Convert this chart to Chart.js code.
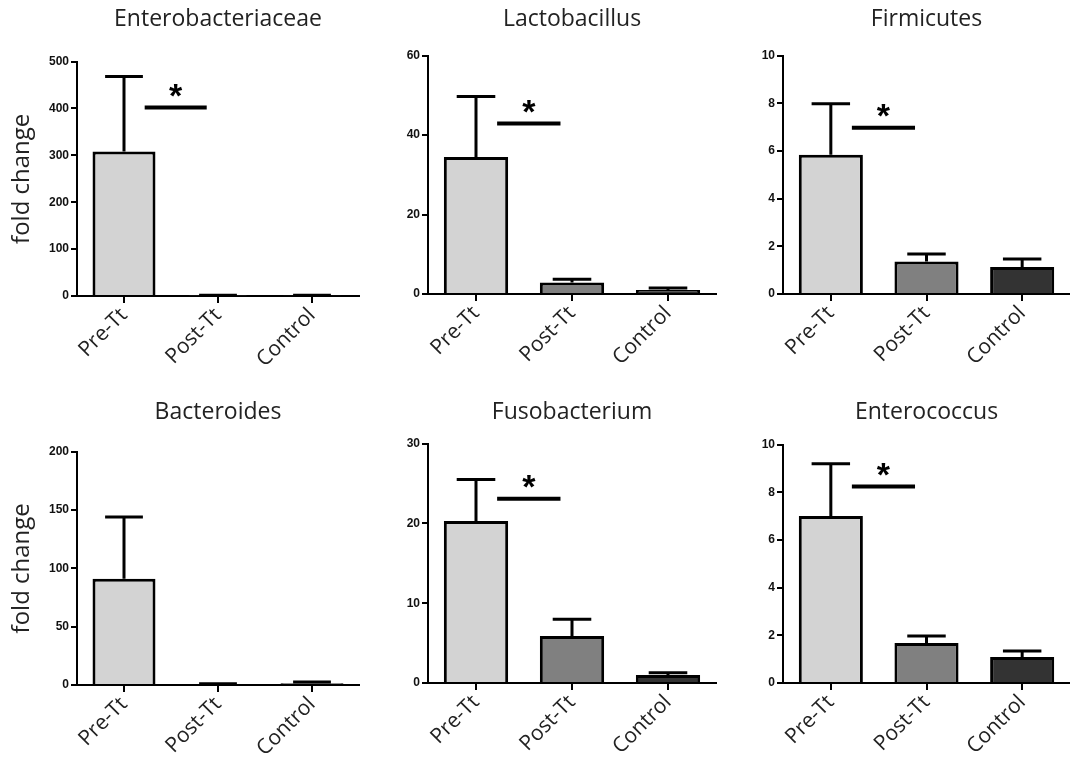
<!DOCTYPE html>
<html>
<head>
<meta charset="utf-8">
<script src="https://cdn.jsdelivr.net/npm/chart.js@4.4.1/dist/chart.umd.min.js"></script>
<style>
  html, body { margin: 0; padding: 0; background: #fff; }
  #wrap { position: relative; width: 1070px; height: 757px; overflow: hidden; }
  #wrap canvas { position: absolute; }
</style>
</head>
<body>
<div id="wrap"></div>
<script>
// data (mean and top of the error bar)
const categories = ['Pre-Tt', 'Post-Tt', 'Control'];
const titles = ['Enterobacteriaceae', 'Lactobacillus', 'Firmicutes', 'Bacteroides', 'Fusobacterium', 'Enterococcus'];

const enterobacteriaceaeMean = [308, 1.2, 1.0];
const enterobacteriaceaeErr = [468, 1.6, 1.4];
const lactobacillusMean = [34.5, 2.9, 1.0];
const lactobacillusErr = [49.7, 3.7, 1.5];
const firmicutesMean = [5.84, 1.36, 1.13];
const firmicutesErr = [7.98, 1.68, 1.47];
const bacteroidesMean = [91, 0.8, 1.5];
const bacteroidesErr = [144, 1.0, 2.6];
const fusobacteriumMean = [20.3, 5.9, 1.0];
const fusobacteriumErr = [25.5, 8.0, 1.3];
const enterococcusMean = [7.0, 1.68, 1.09];
const enterococcusErr = [9.2, 1.97, 1.34];

const yMax = [500, 60, 10, 200, 30, 10];
const yStep = [100, 20, 2, 50, 10, 2];
// height of the significance bar (null = none)
const sigLevel = [402, 42.9, 6.97, null, 23.1, 8.24];

const means = [enterobacteriaceaeMean, lactobacillusMean, firmicutesMean, bacteroidesMean, fusobacteriumMean, enterococcusMean];
const errs = [enterobacteriaceaeErr, lactobacillusErr, firmicutesErr, bacteroidesErr, fusobacteriumErr, enterococcusErr];

// where each panel sits on the page
const panels = [
  { x: 0,   y: 0,   w: 360, h: 380, yw: 77, xh: 84, tTop: 6,  tBot: 28, pr: 1 },
  { x: 360, y: 0,   w: 360, h: 380, yw: 68, xh: 86, tTop: 6,  tBot: 22, pr: 4 },
  { x: 720, y: 0,   w: 350, h: 380, yw: 63, xh: 86, tTop: 6,  tBot: 22, pr: 0 },
  { x: 0,   y: 380, w: 360, h: 377, yw: 77, xh: 72, tTop: 19, tBot: 25, pr: 1 },
  { x: 360, y: 380, w: 360, h: 377, yw: 68, xh: 74, tTop: 19, tBot: 17, pr: 4 },
  { x: 720, y: 380, w: 350, h: 377, yw: 63, xh: 74, tTop: 19, tBot: 18, pr: 0 }
];

const barColors = ['#d3d3d3', '#808080', '#333333'];

Chart.defaults.font.family = "'Open Sans', sans-serif";
Chart.defaults.color = '#222';

// error bars + significance line with star
const errorBars = {
  id: 'errorBars',
  afterDatasetsDraw(chart, args, opts) {
    const ctx = chart.ctx;
    const meta = chart.getDatasetMeta(0);
    const xs = chart.scales.x;
    const ys = chart.scales.y;
    ctx.save();
    ctx.strokeStyle = '#000';
    ctx.lineWidth = 3;
    meta.data.forEach((bar, i) => {
      const top = ys.getPixelForValue(opts.tops[i]);
      const half = bar.width * 0.3;
      ctx.beginPath();
      ctx.moveTo(bar.x, bar.y);
      ctx.lineTo(bar.x, top);
      ctx.moveTo(bar.x - half, top);
      ctx.lineTo(bar.x + half, top);
      ctx.stroke();
    });
    if (opts.sig != null) {
      const x0 = xs.getPixelForValue(0);
      const step = xs.getPixelForValue(1) - x0;
      const a = x0 + step * 0.22;
      const b = x0 + step * 0.88;
      const ly = ys.getPixelForValue(opts.sig);
      ctx.lineWidth = 4;
      ctx.beginPath();
      ctx.moveTo(a, ly);
      ctx.lineTo(b, ly);
      ctx.stroke();
      ctx.fillStyle = '#000';
      ctx.font = "bold 34px 'Liberation Sans'";
      ctx.textAlign = 'center';
      ctx.textBaseline = 'alphabetic';
      ctx.fillText('*', (a + b) / 2, ly - 1);
    }
    ctx.restore();
  }
};

function makePanel(i) {
  const p = panels[i];
  const canvas = document.createElement('canvas');
  canvas.width = p.w;
  canvas.height = p.h;
  canvas.style.left = p.x + 'px';
  canvas.style.top = p.y + 'px';
  document.getElementById('wrap').appendChild(canvas);

  const firstCol = (i % 3 === 0);

  new Chart(canvas, {
    type: 'bar',
    data: {
      labels: categories,
      datasets: [{
        data: means[i],
        backgroundColor: barColors,
        borderColor: '#000',
        borderWidth: 3,
        barPercentage: 0.67,
        categoryPercentage: 1
      }]
    },
    plugins: [errorBars],
    options: {
      responsive: false,
      animation: false,
      layout: { padding: { left: 0, right: p.pr, top: 0, bottom: 0 } },
      plugins: {
        legend: { display: false },
        tooltip: { enabled: false },
        title: {
          display: true,
          text: titles[i],
          fullSize: false,
          color: '#222',
          font: { size: 23, weight: 'normal', lineHeight: 1.2 },
          padding: { top: p.tTop, bottom: p.tBot }
        },
        errorBars: { tops: errs[i], sig: sigLevel[i] }
      },
      scales: {
        x: {
          offset: true,
          grid: { display: true, drawOnChartArea: false, drawTicks: true, tickLength: 7, color: '#000', lineWidth: 2, offset: false },
          border: { display: true, color: '#000', width: 2 },
          ticks: { color: '#222', font: { size: 21 }, maxRotation: 45, minRotation: 45, padding: 0 },
          afterFit: s => { s.height = p.xh; }
        },
        y: {
          min: 0,
          max: yMax[i],
          grid: { drawOnChartArea: false, drawTicks: true, tickLength: 6, color: '#000', lineWidth: 2 },
          border: { display: true, color: '#000', width: 2 },
          ticks: { stepSize: yStep[i], color: '#111', padding: 2, font: { family: "'Liberation Sans', Arial, sans-serif", size: 12, weight: 'bold' } },
          title: { display: firstCol, text: 'fold change', color: '#222', font: { size: 24 }, padding: { top: 8, bottom: 0 } },
          afterFit: s => { s.width = p.yw; }
        }
      }
    }
  });
}

for (let i = 0; i < panels.length; i++) makePanel(i);
</script>
</body>
</html>
